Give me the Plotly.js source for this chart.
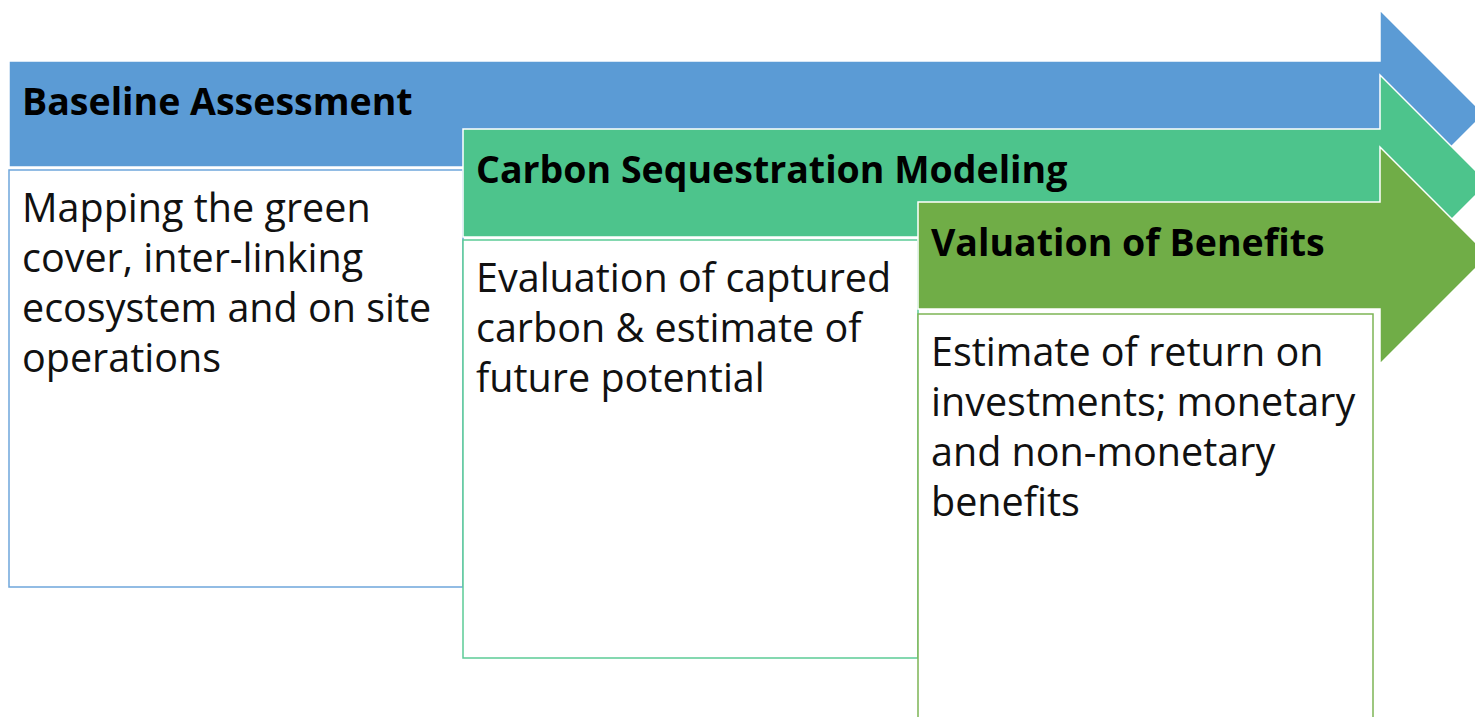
<!DOCTYPE html>
<html>
<head>
<meta charset="utf-8">
<script src="https://cdn.plot.ly/plotly-3.0.1.min.js"></script>
<style>html,body{margin:0;padding:0;background:#fff;}#chart{width:1475px;height:717px;}</style>
</head>
<body>
<div id="chart"></div>
<script>
// ---- content ----
const stageTitles = ["Baseline Assessment", "Carbon Sequestration Modeling", "Valuation of Benefits"];
const stageLines1 = ["Mapping the green", "cover, inter-linking", "ecosystem and on site", "operations"];
const stageLines2 = ["Evaluation of captured", "carbon & estimate of", "future potential"];
const stageLines3 = ["Estimate of return on", "investments; monetary", "and non-monetary", "benefits"];
const stageLines = [stageLines1, stageLines2, stageLines3];

// ---- geometry / style (layout only) ----
const W = 1475, H = 717;
const geo = [
  {left: 9,   top: 61,  bottom: 167, headTop: 10,  boxTop: 170, boxBottom: 587, boxRight: 463},
  {left: 463, top: 129, bottom: 237, headTop: 75,  boxTop: 240, boxBottom: 658, boxRight: 918},
  {left: 918, top: 202, bottom: 309, headTop: 147, boxTop: 314, boxBottom: 740, boxRight: 1373}
];
const fills = ["#5B9BD5", "#4DC48C", "#70AD47"];
const borders = ["#6FA6DB", "#5CCB96", "#7DB556"];
const neck = 1380;
const FONT = "'Open Sans', 'Noto Sans', sans-serif";

const shapes = [];
const annotations = [];
geo.forEach((g, i) => {
  const mid = (g.top + g.bottom) / 2;
  const half = mid - g.headTop;
  const tip = neck + half;
  const headBottom = mid + half;
  shapes.push({
    type: "path", xref: "x", yref: "y",
    path: `M ${g.left} ${g.top} L ${neck} ${g.top} L ${neck} ${g.headTop} L ${tip} ${mid} L ${neck} ${headBottom} L ${neck} ${g.bottom} L ${g.left} ${g.bottom} Z`,
    fillcolor: fills[i], line: {color: "#ffffff", width: 1.5}, layer: "above"
  });
  shapes.push({
    type: "rect", xref: "x", yref: "y",
    x0: g.left, x1: g.boxRight, y0: g.boxTop, y1: g.boxBottom,
    fillcolor: "#ffffff", line: {color: borders[i], width: 1.5}, layer: "above"
  });
  annotations.push({
    xref: "x", yref: "y", x: g.left + 11, y: g.top + 39,
    xanchor: "left", yanchor: "middle", showarrow: false,
    text: "<b>" + stageTitles[i] + "</b>",
    font: {family: FONT, size: 37.5, color: "#000000"}
  });
  stageLines[i].forEach((ln, j) => {
    annotations.push({
      xref: "x", yref: "y", x: g.left + 11, y: g.boxTop + 37 + j * 50,
      xanchor: "left", yanchor: "middle", showarrow: false,
      text: ln,
      font: {family: FONT, size: 39.5, color: "#111111"}
    });
  });
});

const layout = {
  width: W, height: H,
  margin: {l: 0, r: 0, t: 0, b: 0},
  paper_bgcolor: "#ffffff", plot_bgcolor: "#ffffff",
  xaxis: {range: [0, W], visible: false, fixedrange: true},
  yaxis: {range: [H, 0], visible: false, fixedrange: true},
  showlegend: false,
  shapes: shapes,
  annotations: annotations
};
Plotly.newPlot("chart", [{x: [], y: [], type: "scatter"}], layout, {displayModeBar: false, staticPlot: true});
</script>
</body>
</html>
